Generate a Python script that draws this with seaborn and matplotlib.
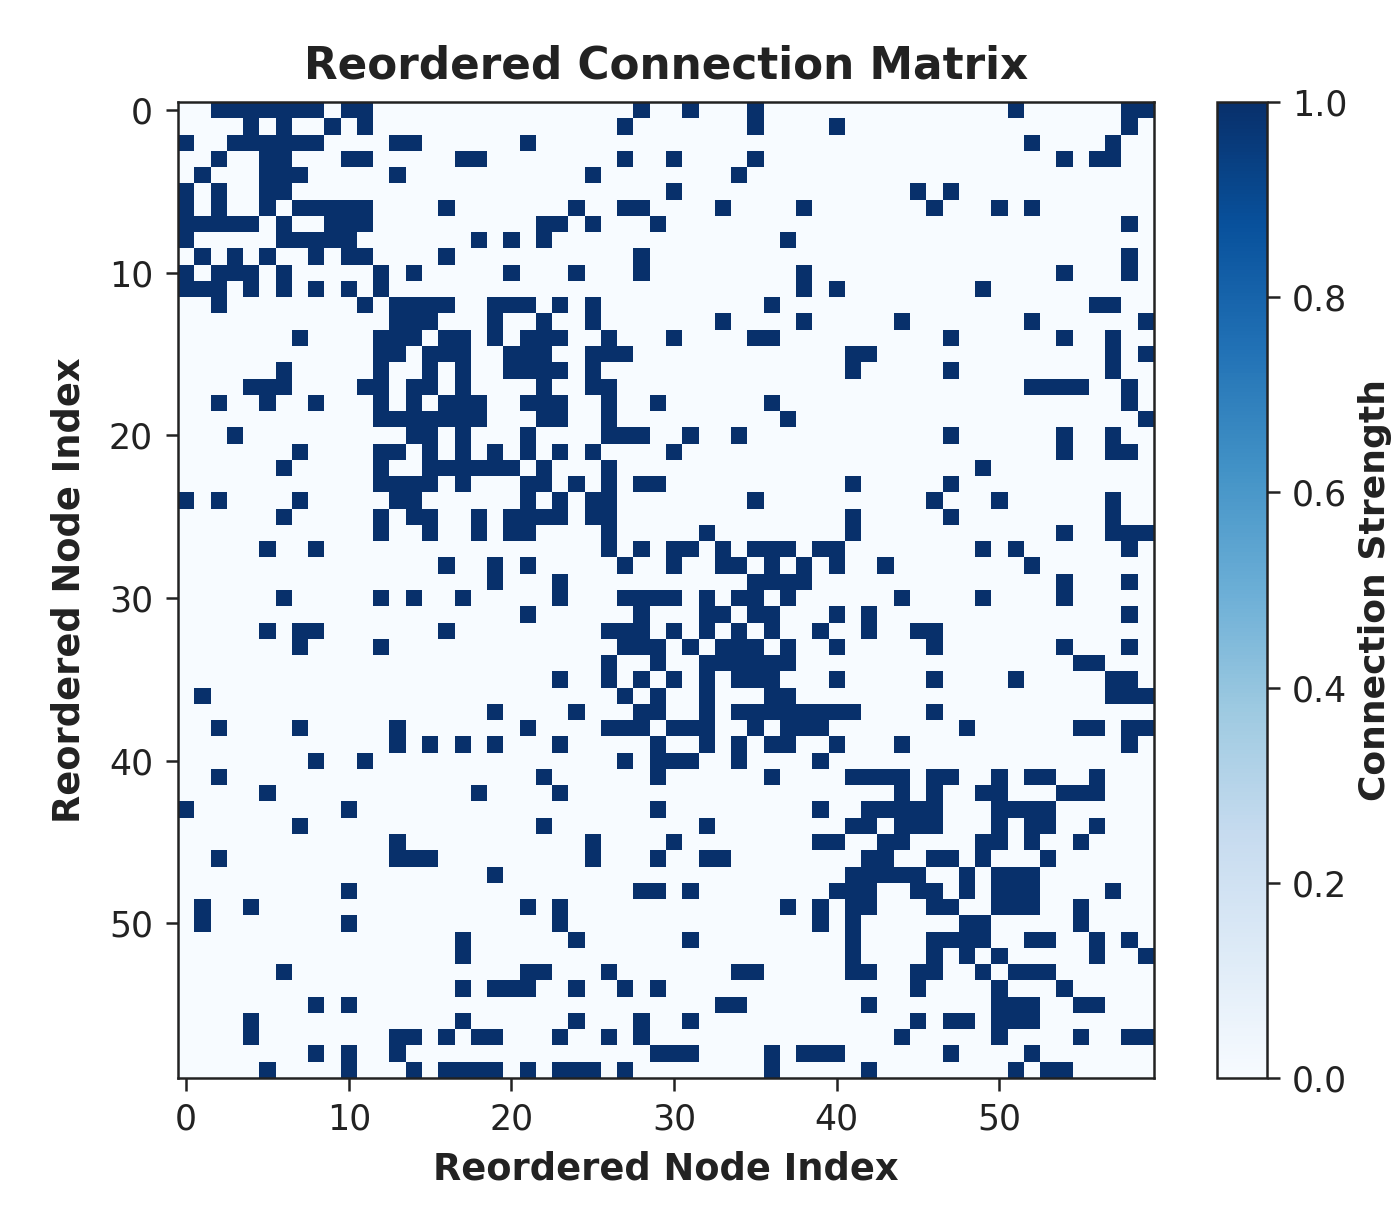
import matplotlib.pyplot as plt
import seaborn as sns
import numpy as np

n_nodes = 60
# connected columns for each row
connections = [
    [2,3,4,5,6,7,8,10,11,28,31,35,51,58,59],
    [4,6,9,11,27,35,40,58],
    [0,3,4,5,6,7,8,13,14,21,52,57],
    [2,5,6,10,11,17,18,27,30,35,54,56,57],
    [1,5,6,7,13,25,34],
    [0,2,5,6,30,45,47],
    [0,2,5,7,8,9,10,11,16,24,27,28,33,38,46,50,52],
    [0,1,2,3,4,6,9,10,11,22,23,25,29,58],
    [0,6,7,8,9,10,18,20,22,37],
    [1,3,5,8,10,11,16,28,58],
    [0,2,3,4,6,12,14,20,24,28,38,54,58],
    [0,1,2,4,6,8,10,12,38,40,49],
    [2,11,13,14,15,16,19,20,21,23,25,36,56,57],
    [13,14,15,19,22,25,33,38,44,52,59],
    [7,12,13,14,16,17,19,21,22,23,26,30,35,36,47,54,57],
    [12,13,15,16,17,20,21,22,25,26,27,41,42,57,59],
    [6,12,15,17,20,21,22,23,25,41,47,57],
    [4,5,6,11,12,14,15,17,22,25,26,52,53,54,55,58],
    [2,5,8,12,14,16,17,18,21,22,23,26,29,36,58],
    [12,13,14,15,16,17,18,22,23,26,37,59],
    [3,14,15,17,21,26,27,28,31,34,47,54,57],
    [7,12,13,15,17,19,21,23,25,30,54,57,58],
    [6,12,15,16,17,18,19,20,22,26,49],
    [12,13,14,15,17,21,22,24,26,28,29,41,47],
    [0,2,7,13,14,21,23,25,26,35,46,50,57],
    [6,12,14,15,18,20,21,22,23,25,26,41,47,57],
    [12,15,18,20,21,26,32,41,54,57,58,59],
    [5,8,26,28,30,31,33,35,36,37,39,40,49,51,58],
    [16,19,21,27,30,33,34,36,38,40,43,52],
    [19,23,35,36,37,38,54,58],
    [6,12,14,17,23,27,28,29,30,32,34,35,37,44,49,54],
    [21,28,32,33,35,36,40,42,58],
    [5,7,8,16,26,27,28,30,32,34,36,39,42,45,46],
    [7,12,27,28,29,31,33,34,35,37,40,46,54,58],
    [26,29,32,33,34,35,36,37,55,56],
    [23,26,28,30,32,34,35,36,40,46,51,57,58],
    [1,27,29,32,36,37,57,58,59],
    [19,24,28,29,32,34,35,36,37,38,39,40,41,46],
    [2,7,13,21,26,27,28,30,31,32,35,37,38,39,48,55,56,58,59],
    [13,15,17,19,23,29,32,34,36,37,40,44,58],
    [8,11,27,29,30,31,34,39],
    [2,22,29,36,41,42,43,44,46,47,50,52,53,56],
    [5,18,23,44,46,49,50,54,55,56],
    [0,10,29,39,42,43,44,45,46,50,51,52,53],
    [7,22,32,41,42,44,45,46,50,52,53,56],
    [13,25,30,39,40,43,44,49,50,52,55],
    [2,13,14,15,25,29,32,33,42,43,46,47,49,53],
    [19,41,42,43,44,45,48,50,51,52],
    [10,28,29,31,40,41,42,45,46,48,50,51,52,57],
    [1,4,21,23,37,39,41,42,46,47,50,51,52,55],
    [1,10,23,39,41,48,49,55],
    [17,24,31,41,46,47,48,49,52,53,56,58],
    [17,41,46,48,50,56,59],
    [6,21,22,26,34,35,41,42,45,46,49,51,52,53],
    [17,19,20,21,24,27,29,45,50,54],
    [8,10,33,34,42,50,51,52,55,56],
    [4,17,24,28,31,45,47,48,50,51,52],
    [4,13,14,16,18,19,23,26,28,44,50,55,58,59],
    [8,10,13,29,30,31,36,38,39,40,47,52],
    [5,10,14,16,17,18,19,21,23,24,25,27,36,42,51,53,54],
]
tick_labels = [0, 10, 20, 30, 40, 50]
cbar_ticks = [0.0, 0.2, 0.4, 0.6, 0.8, 1.0]

matrix = np.zeros((n_nodes, n_nodes))
for row, cols in enumerate(connections):
    matrix[row, cols] = 1.0

text_color = '#222222'
W, H = 1396, 1218

fig = plt.figure(figsize=(W / 100, H / 100), dpi=100)
ax = fig.add_axes([178 / W, 1 - 1078 / H, 976 / W, 976 / H])
cax = fig.add_axes([1217 / W, 1 - 1078 / H, 50 / W, 976 / H])

sns.heatmap(matrix, cmap='Blues', vmin=0, vmax=1, ax=ax, cbar_ax=cax,
            xticklabels=False, yticklabels=False,
            cbar_kws={'ticks': cbar_ticks, 'format': '%.1f'})

# heatmap cells start at 0, so the ticks sit half a cell in
ax.set_xticks(np.array(tick_labels) + 0.5, labels=tick_labels)
ax.set_yticks(np.array(tick_labels) + 0.5, labels=tick_labels, rotation=0)
ax.tick_params(labelsize=25, length=9, width=1.8, colors=text_color, pad=9)
for spine in ax.spines.values():
    spine.set_visible(True)
    spine.set_linewidth(1.8)
    spine.set_color(text_color)

ax.set_title('Reordered Connection Matrix', fontsize=31.5, fontweight='bold',
             color=text_color, pad=17)
ax.set_xlabel('Reordered Node Index', fontsize=26.5, fontweight='bold',
              color=text_color, labelpad=10)
ax.set_ylabel('Reordered Node Index', fontsize=26.5, fontweight='bold',
              color=text_color, labelpad=15)

cbar = ax.collections[0].colorbar
cbar.ax.tick_params(labelsize=25, length=9, width=1.8, colors=text_color, pad=9)
cbar.outline.set_visible(True)
cbar.outline.set_linewidth(1.8)
cbar.outline.set_edgecolor(text_color)
cbar.set_label('Connection Strength', fontsize=26, fontweight='bold',
               color=text_color, labelpad=8)

plt.savefig('out.png', dpi=100)
